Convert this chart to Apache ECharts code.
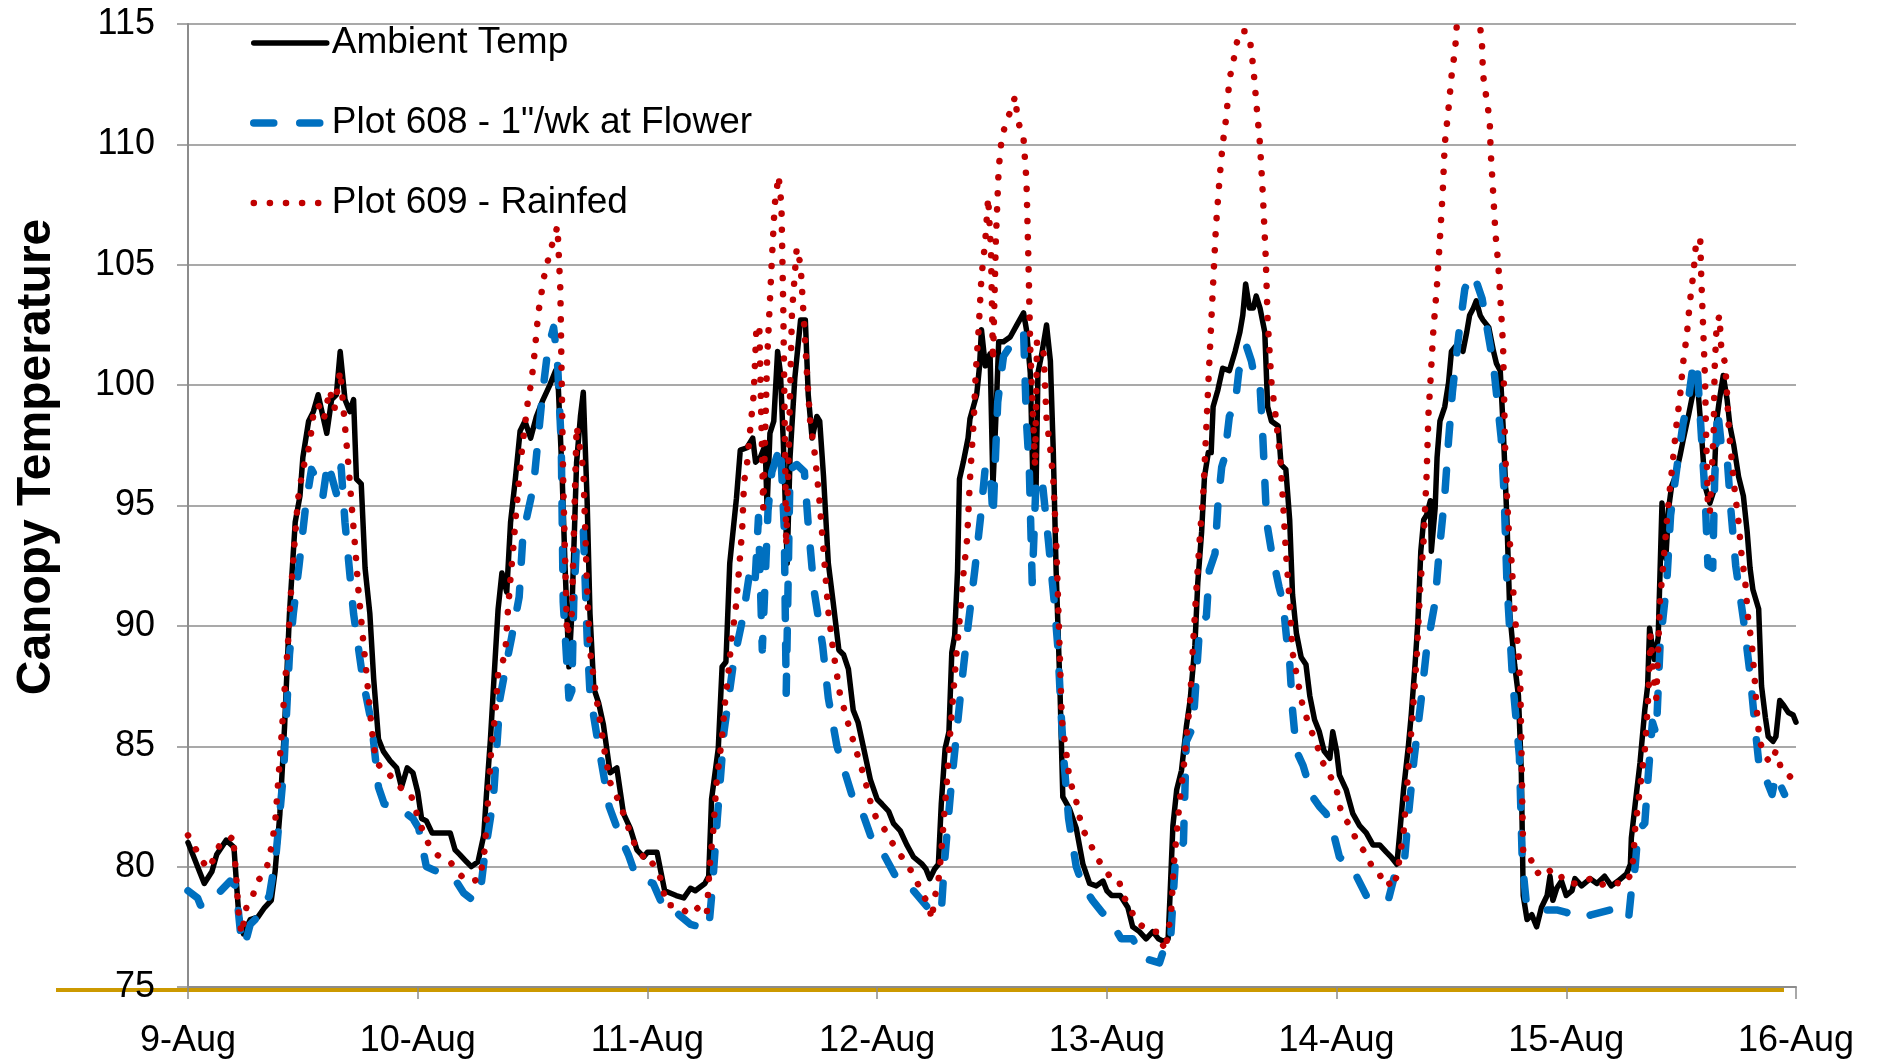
<!DOCTYPE html>
<html>
<head>
<meta charset="utf-8">
<title>Canopy Temperature</title>
<script src="https://cdn.jsdelivr.net/npm/echarts@6/dist/echarts.min.js"></script>
<style>
  html, body { margin: 0; padding: 0; background: #fff; }
  #container { width: 1877px; height: 1062px; }
</style>
</head>
<body>
<div id="container"></div>
<script>
// x = hours since 9-Aug 00:00, y = degrees F
const dayLabels = ['9-Aug', '10-Aug', '11-Aug', '12-Aug', '13-Aug', '14-Aug', '15-Aug', '16-Aug']
const seriesNames = ['Ambient Temp', 'Plot 608 - 1"/wk at Flower', 'Plot 609 - Rainfed']

const ambientTemp = [
  [0, 81.0], [0.5, 80.5], [1.2, 79.8], [1.7, 79.3], [2.5, 79.8], [3, 80.5], [4, 81.1], [4.8, 80.8], [5.3, 78.0], [5.8, 77.2],
  [6.5, 77.8], [7.3, 77.9], [8, 78.3], [8.7, 78.6], [9.1, 79.8], [9.6, 82.2], [10.1, 85.9], [10.6, 90.5], [11.2, 94.3], [11.7, 95.4],
  [12, 97.0], [12.6, 98.5], [13.1, 98.9], [13.6, 99.6], [14.1, 98.7], [14.5, 98.0], [15, 99.4], [15.5, 99.6], [15.9, 101.4], [16.4, 99.4],
  [16.9, 98.9], [17.3, 99.4], [17.6, 96.1], [18.1, 95.9], [18.5, 92.4], [19, 90.5], [19.4, 87.8], [19.9, 85.3], [20.4, 84.8], [21.1, 84.4],
  [21.8, 84.1], [22.3, 83.3], [22.9, 84.1], [23.5, 83.9], [24, 83.1], [24.4, 82.0], [24.9, 81.9], [25.5, 81.4], [27.4, 81.4], [27.9, 80.7],
  [28.4, 80.5], [29.1, 80.2], [29.6, 80.0], [30.3, 80.2], [30.9, 81.3], [31.2, 83.1], [31.6, 85.3], [32.1, 88.7], [32.4, 90.7], [32.8, 92.2],
  [33.3, 91.4], [33.7, 94.3], [34.2, 96.1], [34.7, 98.1], [35.2, 98.5], [35.8, 97.8], [36.4, 98.7], [37.1, 99.4], [37.8, 100.0], [38.4, 100.6],
  [38.7, 99.8], [39.1, 96.1], [39.4, 92.4], [39.8, 88.3], [40.1, 90.5], [40.6, 96.8], [41.0, 98.7], [41.3, 99.7], [41.7, 95.2], [42.0, 90.5],
  [42.4, 87.4], [42.9, 86.8], [43.4, 85.9], [44.1, 83.9], [44.8, 84.1], [45.5, 82.2], [46.2, 81.6], [46.9, 80.7], [47.6, 80.4], [48, 80.6],
  [49, 80.6], [49.8, 79.0], [51, 78.8], [51.8, 78.7], [52.5, 79.1], [53, 79.0], [54, 79.3], [54.4, 79.6], [54.7, 82.8], [55.4, 84.9],
  [55.8, 88.3], [56.2, 88.5], [56.6, 92.6], [57.3, 95.3], [57.7, 97.3], [58.4, 97.4], [59.0, 97.8], [59.3, 96.8], [59.8, 97.0], [60.3, 97.5],
  [60.5, 94.9], [60.8, 98.0], [61.2, 98.5], [61.6, 101.4], [61.9, 100.5], [62.2, 97.6], [62.6, 92.6], [62.9, 97.0], [63.4, 100.3], [64.0, 102.7],
  [64.5, 102.7], [64.8, 99.6], [65.2, 97.8], [65.7, 98.7], [66.0, 98.5], [66.4, 96.2], [66.9, 92.6], [67.4, 91.0], [68, 89.0], [68.5, 88.8],
  [69, 88.2], [69.5, 86.5], [70, 86.0], [70.6, 84.9], [71.3, 83.6], [72, 82.8], [72.5, 82.6], [73.2, 82.3], [73.7, 81.8], [74.4, 81.5],
  [75.1, 80.9], [75.8, 80.4], [76.7, 80.1], [77.1, 79.9], [77.5, 79.5], [78.0, 79.9], [78.4, 80.1], [78.7, 82.6], [79.1, 84.9], [79.5, 85.6],
  [79.8, 88.9], [80.1, 89.6], [80.4, 92.3], [80.6, 96.1], [81.0, 96.8], [81.5, 97.8], [81.7, 98.6], [82.4, 99.6], [82.7, 100.8], [82.9, 102.3],
  [83.3, 100.8], [83.8, 101.3], [84.1, 95.8], [84.4, 98.6], [84.7, 101.8], [85.2, 101.8], [85.9, 102.0], [86.6, 102.5], [87.3, 103.0], [87.6, 102.3],
  [88.0, 100.5], [88.3, 95.6], [88.6, 95.6], [88.8, 100.5], [89.2, 101.3], [89.7, 102.5], [90.1, 101.0], [90.4, 97.3], [90.7, 92.3], [91.1, 87.4],
  [91.4, 82.9], [92.1, 82.4], [92.8, 81.6], [93.5, 80.1], [94.2, 79.3], [94.9, 79.2], [95.6, 79.4], [96, 79.0], [96.5, 78.8], [97.4, 78.8],
  [98.2, 78.3], [98.7, 77.5], [99.4, 77.3], [100.1, 77.0], [100.8, 77.3], [101.4, 77.0], [101.9, 76.9], [102.4, 77.0], [102.6, 78.8], [102.9, 81.7],
  [103.3, 83.2], [103.8, 84.0], [104.3, 85.8], [104.7, 86.9], [105.2, 89.2], [105.5, 91.8], [105.9, 93.9], [106.2, 96.2], [106.6, 97.2], [106.9, 97.2],
  [107.1, 99.1], [107.6, 99.8], [108.1, 100.7], [108.8, 100.6], [109.4, 101.4], [109.9, 102.2], [110.2, 102.9], [110.5, 104.2], [110.9, 103.2], [111.3, 103.2],
  [111.6, 103.7], [112.0, 103.2], [112.5, 102.2], [112.8, 99.1], [113.2, 98.5], [113.9, 98.3], [114.2, 96.7], [114.7, 96.5], [115.1, 94.4], [115.4, 91.3],
  [115.8, 89.7], [116.3, 88.7], [116.8, 88.4], [117.2, 87.1], [117.7, 86.1], [118.2, 85.6], [118.7, 84.8], [119.3, 84.5], [119.6, 85.6], [120, 84.8],
  [120.3, 83.8], [121.0, 83.2], [121.7, 82.2], [122.4, 81.7], [123.1, 81.4], [123.8, 80.9], [124.5, 80.9], [125.2, 80.6], [125.7, 80.4], [126.3, 80.1],
  [126.6, 81.4], [127.0, 83.2], [127.5, 85.0], [127.8, 86.3], [128.2, 88.4], [128.5, 90.2], [128.8, 93.1], [129.1, 94.4], [129.4, 94.6], [129.8, 95.2],
  [129.9, 93.1], [130.3, 94.9], [130.5, 97.0], [130.8, 98.5], [131.3, 99.1], [131.7, 100.1], [132.0, 101.4], [132.4, 101.6], [132.9, 101.6], [133.2, 101.4],
  [133.6, 102.2], [133.9, 102.9], [134.3, 103.2], [134.6, 103.5], [135.0, 102.9], [135.3, 102.7], [135.9, 102.4], [136.4, 101.4], [136.7, 100.9], [137.1, 100.6],
  [137.4, 98.3], [137.8, 94.4], [138.1, 90.5], [138.6, 88.4], [139.0, 87.1], [139.3, 84.0], [139.5, 78.8], [139.9, 77.8], [140.4, 78.0], [140.9, 77.5],
  [141.4, 78.3], [142.0, 78.8], [142.3, 79.6], [142.6, 78.6], [143.0, 79.1], [143.5, 79.4], [144, 78.8], [144.6, 79.0], [144.9, 79.5], [145.6, 79.2],
  [146.5, 79.5], [147.2, 79.3], [148.0, 79.6], [148.7, 79.2], [149.4, 79.4], [150.3, 79.7], [150.7, 80.1], [150.8, 81.2], [151.2, 82.6], [151.7, 84.3],
  [152.2, 86.5], [152.5, 87.5], [152.7, 89.9], [153.2, 88.6], [153.6, 89.5], [154.0, 95.1], [154.4, 92.8], [154.7, 94.9], [155.0, 95.8], [155.4, 96.2],
  [155.9, 97.1], [156.2, 97.7], [156.8, 98.8], [157.1, 99.4], [157.4, 100.0], [157.8, 99.6], [158.1, 98.1], [158.5, 95.8], [159.0, 95.1], [159.4, 95.6],
  [159.7, 98.5], [160.0, 99.4], [160.4, 100.4], [160.8, 99.4], [161.1, 98.3], [161.5, 97.5], [162.0, 96.2], [162.5, 95.4], [162.9, 93.9], [163.2, 92.4],
  [163.5, 91.5], [164.1, 90.7], [164.4, 87.5], [164.8, 86.2], [165.1, 85.4], [165.6, 85.2], [165.9, 85.4], [166.3, 86.9], [166.7, 86.7], [167.2, 86.4],
  [167.7, 86.3], [168, 86.0]
]

const plot608 = [
  [0, 79.0], [1, 78.7], [1.3, 78.4], [2.5, 78.5], [3.2, 78.9], [4.4, 79.4], [5, 79.2], [5.5, 77.2], [5.9, 76.7], [6.5, 77.6],
  [7.5, 78.0], [8.5, 78.8], [9.2, 80.5], [10, 84.0], [10.6, 88.8], [11, 90.5], [11.6, 92.5], [12.3, 95.0], [12.9, 96.5], [13.6, 96.0],
  [14.1, 95.4], [14.6, 96.8], [15.5, 95.5], [16, 96.6], [16.4, 94.3], [17.3, 90.5], [18.3, 87.7], [19.2, 85.9], [19.9, 83.3], [20.5, 82.6],
  [21.5, 82.5], [22.5, 82.3], [23.5, 82.0], [24.1, 81.6], [24.9, 80.0], [26, 79.8], [27, 79.6], [28, 79.4], [28.8, 78.9], [29.8, 78.6],
  [30.5, 78.8], [31, 80.5], [31.9, 82.8], [32.6, 87.0], [33.3, 88.5], [33.8, 89.5], [34.6, 91.2], [35.0, 93.8], [36.1, 95.8], [37.0, 99.5],
  [37.6, 101.5], [38.2, 102.4], [38.6, 101.0], [39.0, 97.5], [39.2, 91.0], [39.8, 87.0], [40.1, 87.3], [40.3, 91.0], [40.6, 93.5], [41.3, 94.0],
  [41.5, 91.8], [41.7, 89.5], [42.0, 87.2], [42.9, 85.0], [44.0, 82.5], [45.2, 81.2], [46.0, 80.5], [46.8, 79.6], [48, 79.4], [48.6, 79.3],
  [49.7, 78.3], [50.5, 78.3], [51.3, 78.0], [52.5, 77.6], [53.5, 77.5], [54.4, 77.4], [54.8, 79.2], [55.3, 82.0], [56.0, 85.6], [57.0, 88.5],
  [58.0, 90.4], [58.6, 92.0], [59.2, 91.5], [59.6, 94.5], [60.0, 89.0], [60.6, 94.8], [61.0, 96.4], [61.9, 97.5], [62.3, 94.0], [62.5, 87.2],
  [62.9, 96.5], [63.6, 96.7], [64.4, 96.4], [64.8, 94.2], [65.4, 91.5], [66.3, 89.2], [66.9, 87.0], [67.8, 85.0], [69.5, 82.8], [70.5, 82.2],
  [71.3, 81.3], [72, 80.8], [72.7, 80.5], [74.2, 79.4], [75.8, 79.0], [77.5, 78.2], [78.7, 78.1], [79.0, 80.0], [79.7, 83.2], [80.8, 87.5],
  [81.5, 90.0], [82.2, 92.3], [82.8, 94.5], [83.3, 96.6], [83.8, 96.6], [84.1, 94.5], [84.6, 99.3], [85.2, 101.2], [86.2, 101.8], [87.3, 102.2],
  [87.6, 98.5], [87.9, 96.5], [88.2, 91.8], [88.6, 96.0], [89.2, 96.2], [89.9, 93.5], [90.5, 91.0], [90.9, 89.0], [91.2, 86.5], [91.5, 84.5],
  [92.0, 82.0], [92.8, 80.0], [93.5, 79.2], [94.5, 78.6], [95.5, 78.1], [96.3, 77.8], [97.5, 77.0], [98.7, 77.0], [99.8, 76.2], [101.5, 76.0],
  [101.9, 76.5], [102.6, 76.6], [103.2, 80.5], [104.0, 81.0], [104.3, 85.2], [105.0, 85.8], [105.7, 90.0], [106.4, 90.4], [106.7, 92.3], [107.3, 93.0],
  [107.6, 95.0], [108.0, 96.6], [108.3, 97.0], [108.8, 98.7], [109.4, 99.2], [109.8, 100.6], [110.2, 100.9], [110.6, 101.6], [111.1, 101.0], [111.4, 100.4],
  [112.0, 100.0], [112.3, 97.8], [112.7, 94.3], [113.2, 93.1], [114.0, 91.6], [114.4, 91.0], [114.8, 89.4], [115.1, 88.5], [115.4, 86.5], [115.8, 84.8],
  [116.5, 84.2], [117.5, 82.9], [118.2, 82.5], [118.9, 82.2], [119.6, 81.5], [120.3, 80.4], [121.7, 79.9], [123.1, 78.8], [124.5, 78.6], [125.4, 78.6],
  [126.3, 80.0], [127.1, 80.3], [127.5, 82.1], [128.1, 84.5], [128.8, 86.8], [129.4, 89.0], [130.3, 91.0], [130.7, 93.0], [131.3, 95.4], [131.7, 97.7],
  [132.1, 99.7], [132.8, 102.2], [133.4, 104.0], [134.0, 104.6], [134.6, 104.3], [135.2, 103.6], [136.4, 100.8], [137.2, 97.8], [137.5, 95.5], [137.8, 91.8],
  [138.4, 87.7], [139.1, 84.6], [139.4, 80.2], [139.8, 78.6], [140.9, 78.5], [141.5, 78.2], [142.5, 78.2], [143, 78.2], [144, 78.1], [144.7, 78.0],
  [145.5, 77.8], [146.6, 78.0], [148.6, 78.2], [149.5, 78.0], [150.5, 77.8], [150.8, 79.0], [151.2, 80.0], [151.5, 81.5], [152.2, 81.8], [152.6, 84.0],
  [153.0, 86.0], [153.4, 85.5], [153.8, 89.2], [154.5, 91.8], [154.9, 94.6], [155.6, 96.7], [156.2, 98.4], [156.8, 99.5], [157.3, 101.0], [157.7, 100.6],
  [158.1, 98.0], [158.5, 95.4], [158.8, 92.5], [159.3, 92.4], [159.5, 96.0], [159.8, 99.0], [160.2, 97.5], [160.8, 97.0], [161.2, 94.8], [161.7, 92.5],
  [162.5, 90.3], [163.2, 88.0], [163.8, 85.5], [164.2, 84.0], [165.0, 83.5], [165.5, 83.0], [165.9, 83.8], [166.8, 83.0]
]

const plot609 = [
  [0, 81.3], [0.5, 81.0], [1.2, 80.4], [2.1, 79.9], [2.8, 80.4], [3.3, 80.9], [4.2, 81.0], [4.7, 81.3], [5.0, 79.8], [5.3, 78.0],
  [5.6, 77.2], [6.1, 78.3], [6.6, 78.6], [7.3, 79.4], [8.2, 79.9], [8.7, 80.8], [9.1, 81.8], [9.4, 83.4], [9.8, 85.6], [10.1, 87.4],
  [10.5, 89.6], [10.8, 91.7], [11.2, 93.8], [11.5, 95.3], [12, 96.5], [12.7, 97.5], [13.1, 98.8], [13.6, 99.2], [14.2, 98.6], [14.8, 99.8],
  [15.3, 99.0], [15.9, 100.6], [16.4, 98.3], [16.8, 96.5], [17.1, 95.0], [17.5, 93.1], [17.8, 91.5], [18.3, 89.4], [18.7, 87.8], [19, 86.5],
  [19.4, 85.0], [19.7, 84.4], [20.4, 83.9], [21.1, 83.8], [21.8, 83.4], [22.5, 83.2], [23.2, 83.1], [23.9, 82.2], [24.6, 81.4], [25.3, 80.8],
  [26, 80.5], [26.7, 80.3], [27.4, 80.2], [28.1, 79.8], [29.1, 79.4], [29.8, 79.4], [30.5, 79.5], [31.0, 80.7], [31.4, 83.1], [31.7, 85.0],
  [32.1, 86.3], [32.4, 88.0], [32.8, 88.3], [33.2, 89.2], [33.4, 90.5], [33.7, 92.0], [34.0, 93.3], [34.3, 94.8], [34.8, 97.0], [35.1, 98.0],
  [35.5, 99.3], [35.9, 100.2], [36.2, 101.3], [36.6, 103.0], [37.2, 104.5], [37.8, 105.5], [38.6, 106.6], [38.9, 104.0], [39.2, 96.0], [39.6, 89.6],
  [40.1, 90.5], [40.6, 98.3], [41.3, 96.5], [41.7, 91.5], [42.0, 89.0], [42.6, 87.2], [43.1, 85.9], [43.6, 84.6], [44.1, 83.5], [44.8, 82.9],
  [45.5, 82.2], [46.2, 81.4], [46.9, 80.7], [47.6, 80.4], [48, 80.5], [49.3, 79.6], [50, 78.4], [51, 78.4], [52.5, 78.0], [53.3, 78.3],
  [54.2, 78.0], [54.5, 80.0], [54.9, 81.6], [55.2, 83.4], [55.8, 85.4], [56.1, 86.8], [56.5, 88.2], [56.8, 89.5], [57.2, 90.6], [57.5, 92.0],
  [57.9, 94.0], [58.1, 96.0], [58.4, 96.7], [58.7, 98.0], [59.1, 99.6], [59.4, 102.5], [59.7, 102.3], [60.1, 94.9], [60.5, 101.0], [61.0, 105.2],
  [61.3, 107.5], [61.7, 108.7], [62.0, 107.5], [62.2, 103.0], [62.5, 93.3], [62.7, 96.2], [63.1, 103.0], [63.6, 105.7], [64.0, 105.0], [64.3, 103.0],
  [64.7, 100.3], [65.0, 98.5], [65.5, 97.1], [66, 95.1], [66.4, 93.1], [66.9, 90.6], [67.4, 89.0], [68.1, 87.2], [69, 85.9], [69.9, 84.7],
  [70.6, 83.8], [71.3, 82.7], [72, 81.9], [72.7, 81.6], [73.4, 81.1], [74.4, 80.5], [75.3, 80.0], [76.0, 79.5], [76.7, 78.9], [77.4, 78.4],
  [77.7, 77.8], [78.0, 78.7], [78.4, 79.4], [78.7, 80.6], [79.0, 82.1], [79.3, 83.6], [79.6, 85.4], [80.0, 87.4], [80.3, 88.9], [80.7, 90.6],
  [81.0, 92.1], [81.4, 93.6], [81.7, 96.1], [82.1, 98.6], [82.3, 100.5], [82.6, 102.3], [82.9, 104.5], [83.3, 106.0], [83.6, 107.8], [83.9, 105.5],
  [84.1, 101.0], [84.4, 106.0], [84.7, 109.0], [85.0, 110.2], [85.5, 111.0], [86.1, 111.5], [86.4, 112.0], [86.7, 111.0], [87.3, 110.2], [87.6, 108.5],
  [87.8, 105.3], [88.0, 101.5], [88.3, 98.6], [88.5, 96.6], [88.7, 101.8], [89.0, 101.8], [89.4, 101.3], [89.7, 98.6], [90.1, 97.3], [90.4, 96.1],
  [90.7, 93.6], [90.9, 91.1], [91.1, 88.6], [91.3, 86.1], [91.8, 84.6], [92.1, 83.6], [92.7, 82.9], [93.4, 81.6], [94.1, 81.1], [94.9, 80.4],
  [95.6, 80.0], [96.3, 79.6], [97.2, 79.5], [97.7, 78.8], [98.4, 78.3], [99.1, 77.7], [99.8, 77.5], [100.5, 77.3], [101.2, 77.3], [101.7, 76.9],
  [102.1, 76.5], [102.4, 77.3], [102.7, 78.0], [103.0, 80.1], [103.3, 81.4], [103.6, 82.7], [104.0, 84.0], [104.3, 85.3], [104.7, 86.9], [105.0, 89.2],
  [105.4, 91.8], [105.7, 93.6], [106.1, 95.7], [106.4, 98.3], [106.7, 100.9], [107.1, 104.2], [107.4, 106.6], [107.8, 108.7], [108.1, 110.0], [108.5, 111.2],
  [108.8, 112.7], [109.2, 113.4], [109.5, 114.1], [109.9, 114.7], [110.4, 114.7], [110.9, 114.5], [111.3, 113.2], [111.6, 111.8], [112.0, 110.0], [112.3, 107.9],
  [112.6, 105.3], [112.8, 102.7], [113.2, 100.1], [113.7, 98.5], [114.1, 97.0], [114.4, 95.2], [114.7, 93.1], [115.1, 91.0], [115.4, 88.9], [116.0, 87.6],
  [116.5, 86.6], [117.2, 85.8], [117.9, 85.1], [118.6, 84.3], [119.3, 83.8], [120.0, 83.2], [120.5, 82.2], [121.4, 81.7], [122.3, 80.9], [123.0, 80.6],
  [123.7, 80.0], [124.5, 79.6], [125.1, 79.7], [125.7, 79.1], [126.3, 79.6], [126.6, 80.4], [127.0, 81.4], [127.3, 83.0], [127.7, 85.1], [128.0, 86.6],
  [128.4, 88.9], [128.7, 91.3], [129.1, 93.6], [129.4, 96.2], [129.6, 98.8], [129.8, 100.1], [130.1, 102.2], [130.5, 104.2], [130.8, 106.1], [131.1, 108.1],
  [131.3, 110.0], [131.7, 111.5], [132.0, 112.8], [132.4, 114.0], [132.6, 115.2], [133.0, 116.6], [133.8, 117.4], [134.5, 116.8], [135.0, 114.9], [135.2, 114.1],
  [135.3, 112.9], [135.7, 111.8], [136.0, 111.0], [136.1, 109.7], [136.3, 108.4], [136.6, 106.3], [136.9, 105.0], [137.1, 103.7], [137.4, 101.6], [137.5, 99.6],
  [137.6, 97.5], [137.8, 95.4], [138.0, 93.9], [138.3, 92.6], [138.6, 90.5], [139.0, 88.9], [139.2, 87.4], [139.3, 85.3], [139.4, 82.7], [139.5, 80.6],
  [140.0, 80.6], [140.9, 79.7], [142.0, 80.0], [142.8, 79.5], [143.9, 79.6], [144.6, 79.3], [145.5, 79.3], [146.5, 79.5], [147.5, 79.2], [148.5, 79.4],
  [149.5, 79.3], [150.3, 79.3], [150.7, 79.7], [151.0, 80.3], [151.2, 81.6], [151.5, 82.6], [151.9, 83.9], [152.2, 84.8], [152.4, 86.0], [152.6, 87.3],
  [152.8, 89.6], [153.1, 88.0], [153.4, 87.0], [153.8, 91.1], [154.1, 92.4], [154.5, 94.3], [154.8, 95.6], [155.2, 97.1], [155.5, 98.3], [155.9, 99.6],
  [156.2, 100.9], [156.6, 102.1], [156.9, 103.4], [157.3, 104.7], [157.6, 106.1], [158.0, 106.0], [158.1, 104.5], [158.3, 102.4], [158.5, 100.2], [158.6, 98.1],
  [158.8, 94.9], [159.0, 94.7], [159.4, 98.1], [159.5, 100.7], [159.7, 102.4], [160.0, 102.9], [160.2, 101.5], [160.6, 100.9], [160.8, 99.6], [161.0, 98.1],
  [161.3, 96.8], [161.6, 95.6], [162.0, 94.3], [162.3, 93.0], [162.7, 91.8], [163.0, 90.3], [163.4, 89.2], [163.7, 87.7], [163.9, 86.5], [164.2, 85.2],
  [164.8, 84.6], [165.3, 84.3], [165.9, 84.8], [166.5, 84.0], [167.0, 83.9], [167.7, 83.6]
]

const fontName = '"Liberation Sans", Arial, sans-serif'
const gridGray = '#8c8c8c'

let chartDom = document.getElementById('container')
let myChart = echarts.init(chartDom, null, { renderer: 'canvas' })

// legend icon: line only, hide the centre marker
let hiddenMarker = { opacity: 0 }

let option = {
  animation: false,
  backgroundColor: '#fff',
  grid: {
    left: 188,
    right: 81,
    top: 24,
    bottom: 75
  },
  legend: {
    orient: 'vertical',
    left: 245,
    top: 18,
    itemWidth: 73,
    itemHeight: 14,
    itemGap: 40,
    selectedMode: false,
    textStyle: {
      fontFamily: fontName,
      fontSize: 37,
      lineHeight: 40,
      color: '#000'
    },
    data: [
      { name: seriesNames[0], lineStyle: { width: 5.5 }, itemStyle: hiddenMarker },
      { name: seriesNames[1], lineStyle: { width: 7.5 }, itemStyle: hiddenMarker },
      { name: seriesNames[2], lineStyle: { width: 6.5 }, itemStyle: hiddenMarker }
    ]
  },
  xAxis: {
    type: 'value',
    min: 0,
    max: 168,
    interval: 24,
    axisLine: { lineStyle: { color: gridGray, width: 2 } },
    axisTick: { show: true, length: 12, lineStyle: { color: gridGray, width: 1.5 } },
    splitLine: { show: false },
    axisLabel: {
      margin: 36,
      fontFamily: fontName,
      fontSize: 36,
      color: '#000',
      formatter: function(v) {
        return dayLabels[Math.round(v / 24)]
      }
    }
  },
  yAxis: {
    type: 'value',
    min: 75,
    max: 115,
    interval: 5,
    axisLine: { show: true, lineStyle: { color: gridGray, width: 2 } },
    axisTick: { show: true, length: 11, lineStyle: { color: gridGray, width: 1.5 } },
    splitLine: { lineStyle: { color: gridGray, width: 1.5 } },
    axisLabel: {
      margin: 33,
      fontFamily: fontName,
      fontSize: 36,
      color: '#000'
    }
  },
  graphic: [
    {
      // gold rule under the x axis
      type: 'rect',
      z: -10,
      shape: { x: 56, y: 988, width: 1728, height: 4 },
      style: { fill: '#CC9900' }
    },
    {
      type: 'text',
      x: 37,
      y: 457,
      rotation: Math.PI / 2,
      style: {
        text: 'Canopy Temperature',
        font: 'bold 48px ' + fontName,
        fill: '#000',
        textAlign: 'center',
        textVerticalAlign: 'middle'
      }
    }
  ],
  series: [
    {
      name: seriesNames[0],
      type: 'line',
      data: ambientTemp,
      symbol: 'none',
      showSymbol: false,
      lineStyle: { color: '#000', width: 5.5, join: 'round', cap: 'round' },
      itemStyle: { color: '#000' }
    },
    {
      name: seriesNames[1],
      type: 'line',
      data: plot608,
      symbol: 'none',
      showSymbol: false,
      lineStyle: { color: '#0070C0', width: 7.5, type: [20, 26], cap: 'round', join: 'round' },
      itemStyle: { color: '#0070C0' }
    },
    {
      name: seriesNames[2],
      type: 'line',
      data: plot609,
      symbol: 'none',
      showSymbol: false,
      lineStyle: { color: '#C00000', width: 6.5, type: [0.1, 16], cap: 'round', join: 'round' },
      itemStyle: { color: '#C00000' }
    }
  ]
}

option && myChart.setOption(option)

window.addEventListener('resize', function() {
  myChart.resize()
})
</script>
</body>
</html>
